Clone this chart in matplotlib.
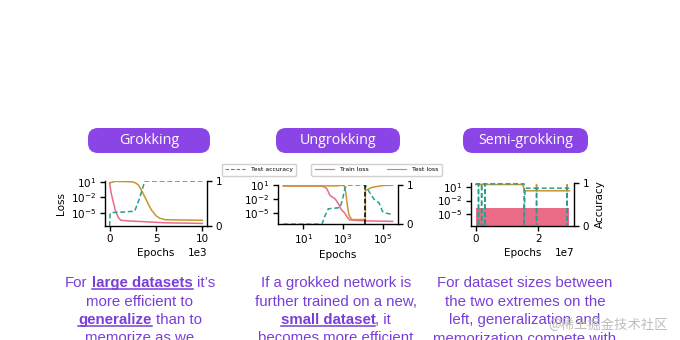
# Grokking / Ungrokking / Semi-grokking slide: three small loss/accuracy panels
# with pill titles on top and purple explanation text below.

import matplotlib
matplotlib.use("Agg")
import matplotlib.pyplot as plt
from matplotlib.patches import FancyBboxPatch
from matplotlib.lines import Line2D
from matplotlib.ticker import NullLocator

C_TRAIN = "#ea6b86"
C_TEST = "#c8952f"
C_ACC = "#2a9d8f"
PILL = "#8b45e6"
TXT = "#7a3ed8"
BODY_FONT = "Liberation Sans"
ACC_DASH = (0, (3.2, 1.8))

# ---- Grokking (linear epochs) ----
grok_train_ep = [0, 150, 300, 600, 900, 1200, 2000, 4000, 6000, 10000]
grok_train_loss = [6e0, 1e-1, 6e-3, 4e-5, 1.6e-6, 4e-7, 3e-7, 2e-7, 1.3e-7, 1e-7]
grok_test_ep = [0, 600, 2400, 2800, 3100, 3400, 3800, 4200, 4500, 5000, 5400, 6000, 10000]
grok_test_loss = [6e0, 1.2e1, 1e1, 6e0, 2.5e0, 3e-1, 1.2e-2, 4e-4, 4e-5, 3e-6, 1e-6, 5e-7, 4e-7]
grok_acc_ep = [0, 50, 300, 1500, 2700, 3200, 3800, 10000]
grok_acc = [0, 0.28, 0.30, 0.31, 0.33, 0.60, 1.0, 1.0]

# ---- Ungrokking (log epochs) ----
ug_train_ep = [1, 70, 110, 150, 220, 400, 570, 800, 1200, 1600, 2100, 1e4, 3e5]
ug_train_loss = [8, 8, 5, 2, 6e-2, 1e-2, 1e-3, 5e-5, 8e-6, 1e-6, 2.5e-7, 1.6e-7, 1.2e-7]
ug_test_ep = [1, 470, 830, 1150, 1350, 1580, 1850, 2140, 2800, 1.3e4, 1.3e4, 2e4, 3e4, 5e4, 1.1e5, 3e5]
ug_test_loss = [8, 8, 11, 8, 3e-1, 1e-3, 1e-5, 1.2e-6, 3e-7, 3e-7, 8e-1, 2, 4, 6, 10, 11]
ug_acc_ep = [1, 87, 120, 180, 690, 900, 1200, 1480, 1.3e4, 2.1e4, 3.6e4, 6.3e4, 9.4e4, 1.4e5, 3e5]
ug_acc = [0, 0, 0.2, 0.39, 0.42, 0.6, 0.9, 1.0, 1.0, 0.81, 0.63, 0.54, 0.32, 0.28, 0.24]
ug_switch = 1.3e4

# ---- Semi-grokking (linear epochs, 1e7) ----
semi_band_ep = [0, 3.0e7]
semi_band_low = [1e-9, 1e-9]
semi_band_high = [3e-4, 3e-4]
semi_test_ep = [0, 1.50e7, 1.58e7, 1.945e7, 1.95e7, 1.955e7, 2.925e7, 2.93e7, 2.935e7, 3.0e7]
semi_test_loss = [30, 30, 1.3, 1.3, 30, 1.3, 1.3, 30, 1.3, 1.3]
semi_acc_ep = [0, 0.09e7, 0.09e7, 0.09e7, 0.19e7, 0.19e7, 0.19e7, 0.30e7, 0.30e7, 0.30e7,
               1.55e7, 1.55e7, 1.58e7, 1.95e7, 1.95e7, 1.95e7, 2.93e7, 2.93e7, 2.93e7, 3.0e7]
semi_acc = [0.98, 0.98, 0, 0.98, 0.98, 0, 0.98, 0.98, 0, 0.98,
            0.98, 0, 0.88, 0.88, 0, 0.88, 0.88, 0, 0.88, 0.88]

titles = ["Grokking", "Ungrokking", "Semi-grokking"]
captions = [
    [[("For", 0), ("large datasets", 1), ("it\u2019s", 0)],
     [("more efficient to", 0)],
     [("generalize", 1), ("than to", 0)],
     [("memorize as we", 0)]],
    [[("If a grokked network is", 0)],
     [("further trained on a new,", 0)],
     [("small dataset", 1), (", it", 0)],
     [("becomes more efficient", 0)]],
    [[("For dataset sizes between", 0)],
     [("the two extremes on the", 0)],
     [("left, generalization and", 0)],
     [("memorization compete with", 0)]],
]

W, H = 680, 340
plt.rcParams["font.family"] = "DejaVu Sans"
plt.rcParams["font.size"] = 7.5
plt.rcParams["axes.linewidth"] = 1.0
plt.rcParams["xtick.major.width"] = 1.0
plt.rcParams["ytick.major.width"] = 1.0
plt.rcParams["xtick.major.size"] = 3.5
plt.rcParams["ytick.major.size"] = 3.5
plt.rcParams["xtick.major.pad"] = 2.5
plt.rcParams["ytick.major.pad"] = 2.5

fig = plt.figure(figsize=(W / 100, H / 100), dpi=100)


def px_axes(x0, x1, ytop, ybot):
    return fig.add_axes([x0 / W, 1 - ybot / H, (x1 - x0) / W, (ybot - ytop) / H])


def style_pair(ax, ax2):
    ax.set_yscale("log")
    ax.set_yticks([1e1, 1e-2, 1e-5])
    ax.yaxis.set_minor_locator(NullLocator())
    ax.spines["top"].set_visible(False)
    ax.spines["right"].set_visible(False)
    ax2.spines["top"].set_visible(False)
    ax2.spines["left"].set_visible(False)
    ax2.spines["bottom"].set_visible(False)
    ax2.set_ylim(0, 1)
    ax2.set_yticks([0, 1])
    ax2.set_yticklabels(["0", "1"])
    ax.set_xlabel("Epochs", labelpad=3)


# panel 1
ax = px_axes(105, 207, 181, 226)
ax2 = ax.twinx()
ax.plot(grok_train_ep, grok_train_loss, color=C_TRAIN, lw=1.1)
ax.plot(grok_test_ep, grok_test_loss, color=C_TEST, lw=1.1)
ax2.plot(grok_acc_ep, grok_acc, color=C_ACC, lw=1.1, ls=ACC_DASH)
style_pair(ax, ax2)
ax.set_ylim(10 ** -7.5, 10 ** 1.15)
ax.set_xlim(-500, 10500)
ax.set_xticks([0, 5000, 10000])
ax.ticklabel_format(axis="x", style="sci", scilimits=(3, 3))
ax.set_ylabel("Loss", labelpad=4)

# panel 2
ax = px_axes(278, 398, 185, 224)
ax2 = ax.twinx()
ax.plot(ug_train_ep, ug_train_loss, color=C_TRAIN, lw=1.1)
ax.plot(ug_test_ep, ug_test_loss, color=C_TEST, lw=1.1)
ax2.plot(ug_acc_ep, ug_acc, color=C_ACC, lw=1.1, ls=ACC_DASH)
ax2.axvline(ug_switch, color="black", lw=1.1, ls=(0, (3, 1.5)))
style_pair(ax, ax2)
ax.set_xscale("log")
ax.set_xlim(10 ** -0.27, 10 ** 5.75)
ax.set_xticks([1e1, 1e3, 1e5])
ax.xaxis.set_minor_locator(NullLocator())
ax.set_ylim(10 ** -7.5, 10 ** 1.1)

# panel 3
ax = px_axes(471, 574, 183, 226)
ax2 = ax.twinx()
ax.fill_between(semi_band_ep, semi_band_low, semi_band_high, color=C_TRAIN, lw=0)
ax.plot(semi_test_ep, semi_test_loss, color=C_TEST, lw=1.1)
ax2.plot(semi_acc_ep, semi_acc, color=C_ACC, lw=1.1, ls=ACC_DASH)
style_pair(ax, ax2)
ax.set_ylim(10 ** -7.5, 10 ** 1.8)
ax.set_xlim(-1.5e6, 3.15e7)
ax.set_xticks([0, 2e7])
ax.ticklabel_format(axis="x", style="sci", scilimits=(7, 7))
ax2.set_ylabel("Accuracy", labelpad=4)

# legends
leg_kw = dict(loc="center", fontsize=4.4, frameon=True, fancybox=True,
              edgecolor="#d0d0d0", framealpha=1, handlelength=3.2,
              handletextpad=0.9, borderpad=0.55)
fig.legend(handles=[Line2D([], [], color=C_ACC, lw=0.8, ls=ACC_DASH)],
           labels=["Test accuracy"], bbox_to_anchor=(259 / W, 1 - 169.5 / H), **leg_kw)
fig.legend(handles=[Line2D([], [], color=C_TRAIN, lw=0.8),
                    Line2D([], [], color=C_TEST, lw=0.8)],
           labels=["Train loss", "Test loss"], ncol=2, columnspacing=3.0,
           bbox_to_anchor=(376.5 / W, 1 - 169.5 / H), **leg_kw)

# overlay in pixel coordinates for pills and captions
ov = fig.add_axes([0, 0, 1, 1], zorder=-1)
ov.set_xlim(0, W)
ov.set_ylim(H, 0)
ov.axis("off")

pills = [(88, 210), (276, 400), (463, 588)]
for (x0, x1), title in zip(pills, titles):
    r = 10
    ov.add_patch(FancyBboxPatch((x0 + r, 128 + r), x1 - x0 - 2 * r, 25 - 2 * r,
                                boxstyle="round,pad=%d" % r, fc=PILL, ec="none"))
    ov.text((x0 + x1) / 2, 141, title, color="white", fontsize=10.3,
            family="Open Sans", ha="center", va="center")

renderer = fig.canvas.get_renderer()
size = 10.8


def width(s, bold):
    t = ov.text(0, 0, s, fontsize=size, family=BODY_FONT,
                fontweight="bold" if bold else "normal")
    w = t.get_window_extent(renderer).width
    t.remove()
    return w


space = width("x x", 0) - width("xx", 0)
centers = [140, 336, 525]
baselines = [287, 305.5, 324, 342.5]
for cx, lines in zip(centers, captions):
    for y, parts in zip(baselines, lines):
        ws = [width(s, b) for s, b in parts]
        gaps = [0 if s.startswith(",") else space for s, b in parts[1:]]
        total = sum(ws) + sum(gaps)
        x = cx - total / 2
        for i, ((s, b), w) in enumerate(zip(parts, ws)):
            if i > 0:
                x += gaps[i - 1]
            ov.text(x, y, s, fontsize=size, family=BODY_FONT, color=TXT,
                    fontweight="bold" if b else "normal", ha="left", va="baseline")
            if b:
                ov.plot([x, x + w], [y + 2.3, y + 2.3], color=TXT, lw=1.1)
            x += w

ov.text(548, 325, "@稀土掘金技术社区", fontsize=9.6, color="#bdbdbd",
        family=["Noto Sans CJK SC", "DejaVu Sans"], ha="left", va="center")

fig.savefig("out.png", dpi=100)
